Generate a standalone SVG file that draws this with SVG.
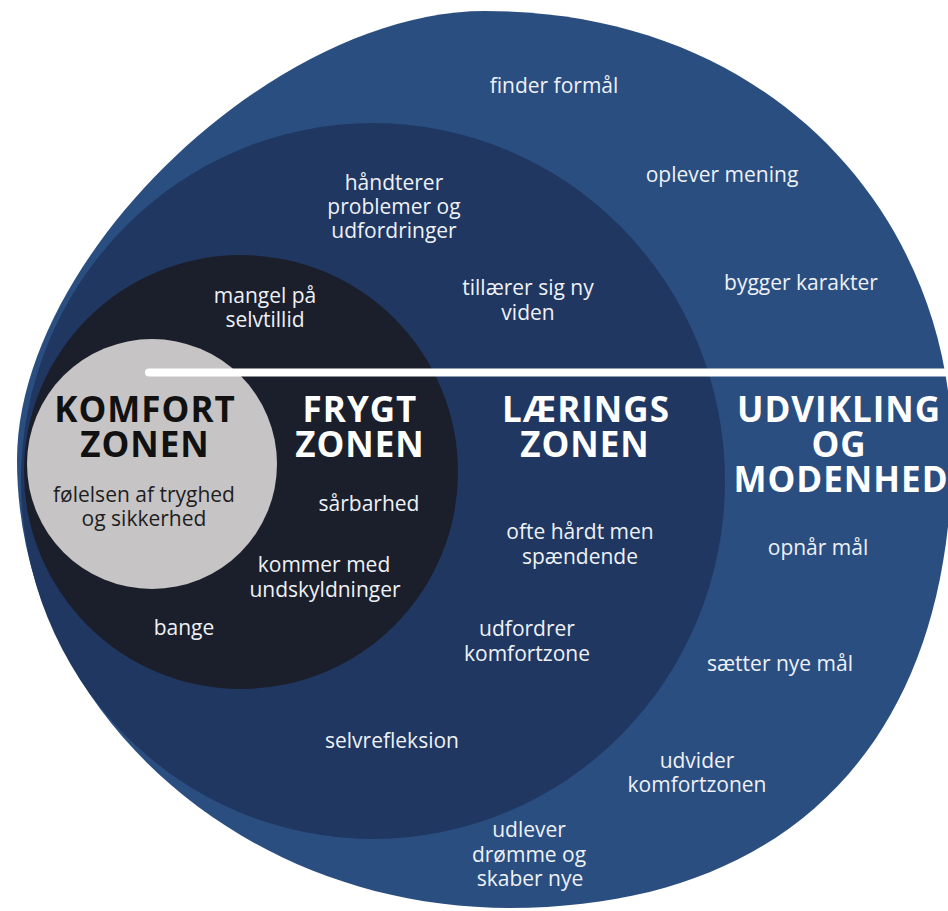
<svg xmlns="http://www.w3.org/2000/svg" width="948" height="911" viewBox="0 0 948 911">
<style>
.t{font-family:"Open Sans","Noto Sans","Liberation Sans",sans-serif;font-size:21px;fill:#eef1f6;text-anchor:middle}
.k{fill:#1e1e1e}
.h{font-family:"Open Sans","Noto Sans","Liberation Sans",sans-serif;font-size:35px;font-weight:700;letter-spacing:1px;fill:#ffffff;text-anchor:middle}
.hk{fill:#111111}
</style>
<rect width="948" height="911" fill="#ffffff"/>
<g id="udvikling-zone">
<path d="M17,460 C17,258 274,11 485,11 C780,11 952,225 952,450 C952,740 790,908 510,908 C238,908 17,707 17,460 Z" fill="#2a4e80"/>
<text class="t" x="554" y="93">finder formål</text>
<text class="t" x="722" y="182">oplever mening</text>
<text class="t" x="801" y="290">bygger karakter</text>
<text class="h"><tspan x="839" y="422">UDVIKLING</tspan><tspan x="839" y="457">OG</tspan><tspan x="841" y="492">MODENHED</tspan></text>
<text class="t" x="818" y="555">opnår mål</text>
<text class="t" x="780" y="671">sætter nye mål</text>
<text class="t"><tspan x="697" y="768">udvider</tspan><tspan x="697" y="792">komfortzonen</tspan></text>
<text class="t"><tspan x="529" y="837">udlever</tspan><tspan x="529" y="862">drømme og</tspan><tspan x="530" y="886">skaber nye</tspan></text>
</g>
<g id="laerings-zone">
<ellipse cx="373" cy="481" rx="352" ry="358" fill="#1f3761"/>
<text class="t"><tspan x="394" y="190">håndterer</tspan><tspan x="394" y="214">problemer og</tspan><tspan x="394" y="238">udfordringer</tspan></text>
<text class="t"><tspan x="528" y="295">tillærer sig ny</tspan><tspan x="528" y="320">viden</tspan></text>
<text class="h"><tspan x="586" y="422">LÆRINGS</tspan><tspan x="585" y="457">ZONEN</tspan></text>
<text class="t"><tspan x="580" y="539">ofte hårdt men</tspan><tspan x="580" y="564">spændende</tspan></text>
<text class="t"><tspan x="527" y="636">udfordrer</tspan><tspan x="527" y="661">komfortzone</tspan></text>
<text class="t" x="392" y="748">selvrefleksion</text>
</g>
<g id="frygt-zone">
<circle cx="241" cy="472" r="217" fill="#1b1f2b"/>
<text class="t"><tspan x="265" y="303">mangel på</tspan><tspan x="265" y="327">selvtillid</tspan></text>
<text class="h"><tspan x="360" y="422">FRYGT</tspan><tspan x="360" y="457">ZONEN</tspan></text>
<text class="t" x="369" y="511">sårbarhed</text>
<text class="t"><tspan x="324" y="572">kommer med</tspan><tspan x="325" y="597">undskyldninger</tspan></text>
<text class="t" x="184" y="635">bange</text>
</g>
<g id="komfort-zone">
<circle cx="152" cy="464" r="125" fill="#c6c4c5"/>
<text class="h hk"><tspan x="145" y="422">KOMFORT</tspan><tspan x="145" y="457">ZONEN</tspan></text>
<text class="t k"><tspan x="144" y="502">følelsen af tryghed</tspan><tspan x="144" y="526">og sikkerhed</tspan></text>
</g>
<g id="connectors">
<line x1="149" y1="372.5" x2="960" y2="372.5" stroke="#ffffff" stroke-width="8" stroke-linecap="round"/>
</g>
</svg>
